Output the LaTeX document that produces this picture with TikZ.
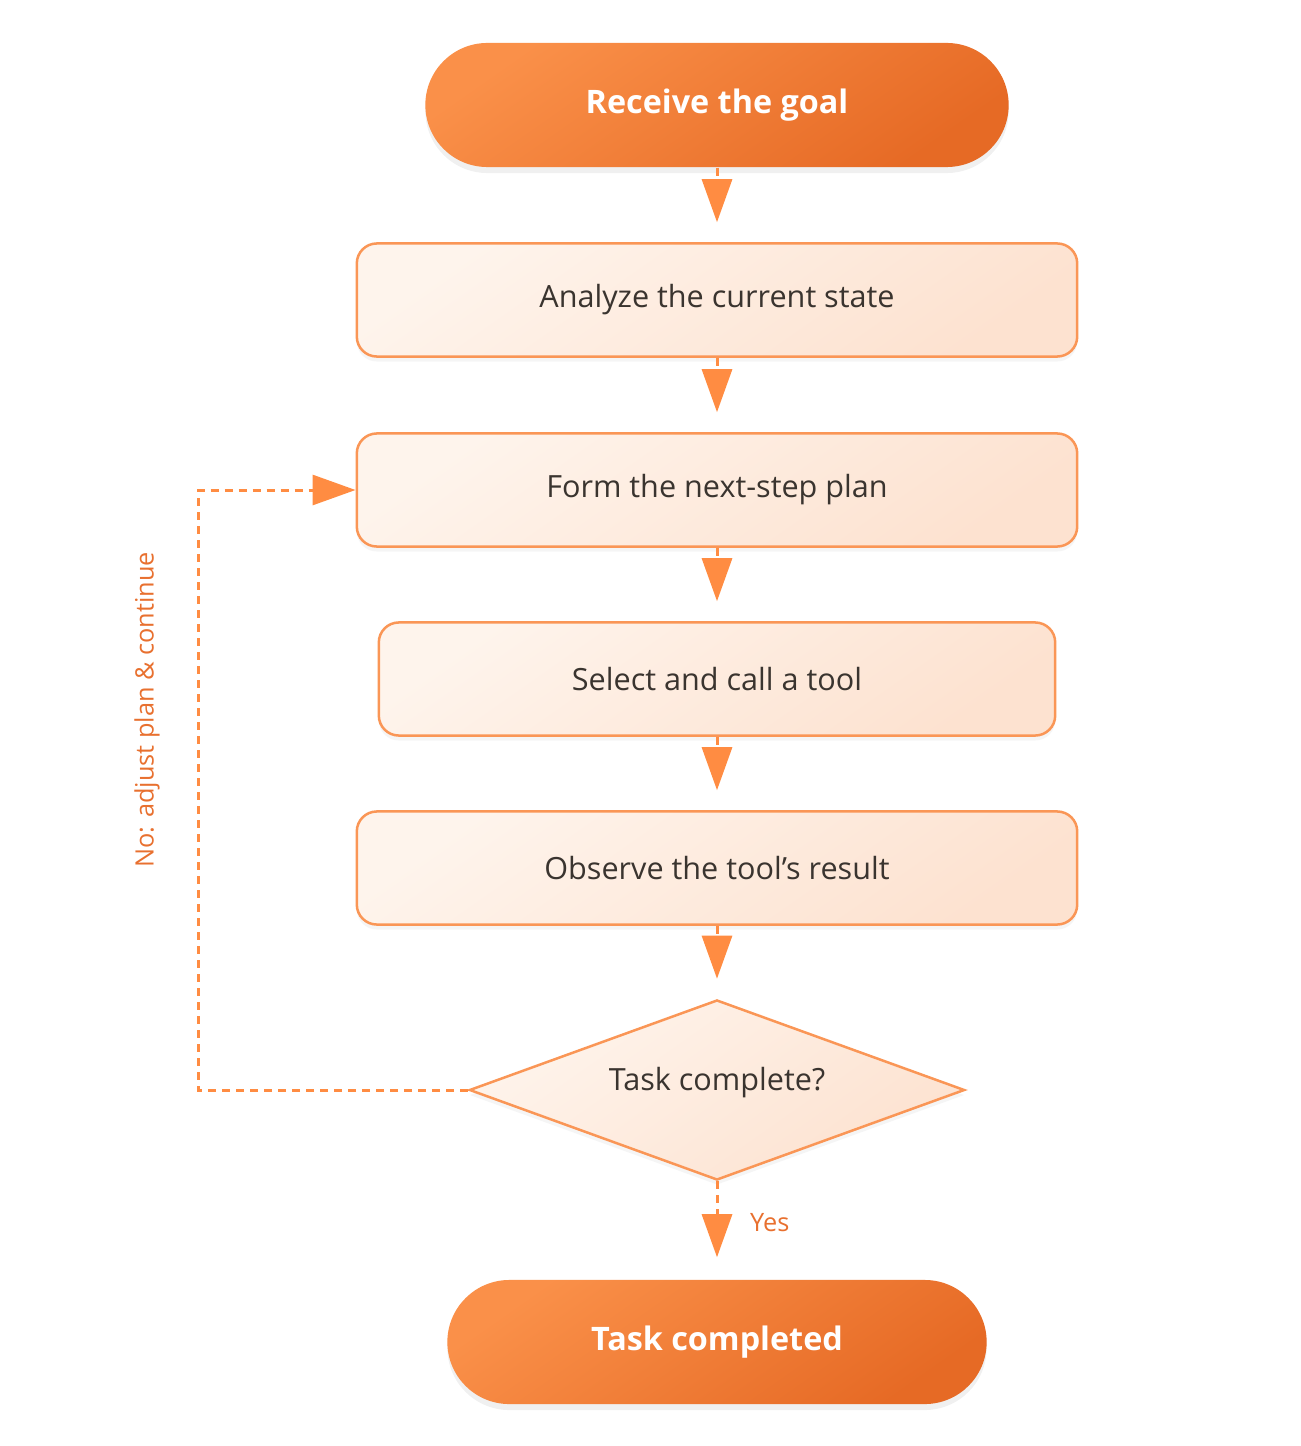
\documentclass[tikz,border=0pt]{standalone}
\usepackage{fontspec}
\setmainfont{Open Sans}
\usetikzlibrary{arrows.meta,shapes.geometric,shadows}
\definecolor{lineor}{HTML}{FF8C42}
\definecolor{termA}{HTML}{FA9049}
\definecolor{termB}{HTML}{E66A25}
\definecolor{boxA}{HTML}{FEF4EC}
\definecolor{boxB}{HTML}{FDE2D0}
\definecolor{boxline}{HTML}{FA9656}
\definecolor{txt}{HTML}{3A342F}
\definecolor{lbl}{HTML}{E8702F}

\begin{document}
\begin{tikzpicture}[x=0.01cm,y=-0.01cm,
    termstyle/.style={rounded corners=0.62cm,minimum width=5.83cm,minimum height=1.24cm,
      top color=termA,bottom color=termB,shading angle=35,text=white,
      font=\bfseries\fontsize{9.2}{11}\selectfont,
      drop shadow={opacity=0.12,shadow xshift=0cm,shadow yshift=-0.06cm}},
    boxstyle/.style={draw=boxline,line width=0.025cm,rounded corners=0.2cm,
      minimum width=7.2cm,minimum height=1.13cm,
      top color=boxA,bottom color=boxB,shading angle=35,text=txt,
      font=\fontsize{8.7}{10}\selectfont,
      drop shadow={opacity=0.08,shadow xshift=0cm,shadow yshift=-0.05cm}},
    decstyle/.style={diamond,draw=boxline,line width=0.025cm,aspect=2.75,inner sep=0pt,
      minimum width=4.95cm,minimum height=1.8cm,
      top color=boxA,bottom color=boxB,shading angle=35,text=txt,
      font=\fontsize{8.7}{10}\selectfont,
      drop shadow={opacity=0.08,shadow xshift=0cm,shadow yshift=-0.05cm}},
    arrstyle/.style={draw=lineor,line width=0.03cm,dash pattern=on 0.08cm off 0.06cm,
      -{Triangle[length=0.43cm,width=0.3cm,fill=lineor]}},
    lblstyle/.style={text=lbl,font=\fontsize{7.2}{9}\selectfont}]
      \useasboundingbox (0,0) rectangle (1300,1446);
      \node [termstyle] (1) at (717,105) {Receive the goal};
      \node [boxstyle]  (2) at (717,300) {Analyze the current state};
      \node [boxstyle]  (3) at (717,490) {Form the next-step plan};
      \node [boxstyle,minimum width=6.76cm]  (4) at (717,679) {Select and call a tool};
      \node [boxstyle]  (5) at (717,868) {Observe the tool's result};
      \node [decstyle]  (6) at (717,1090) {\raisebox{0.22cm}{Task complete?}};
      \node [termstyle,minimum width=5.39cm] (7) at (717,1342) {Task completed};
      \foreach \a/\b in {1/2,2/3,3/4,4/5,5/6}
       {\draw [arrstyle,shorten >=0.2cm] (\a) -- (\b);}
      \draw [arrstyle,shorten >=0.22cm] (6) -- node [lblstyle,right=0.2cm,yshift=0.08cm] (yes) {Yes} (7);
      \draw [arrstyle] (6.west) -- ++(-270,0) |- (3.west);
      \node [lblstyle,rotate=90] (no) at (147,710) {No: adjust plan \& continue};
\end{tikzpicture}
\end{document}
